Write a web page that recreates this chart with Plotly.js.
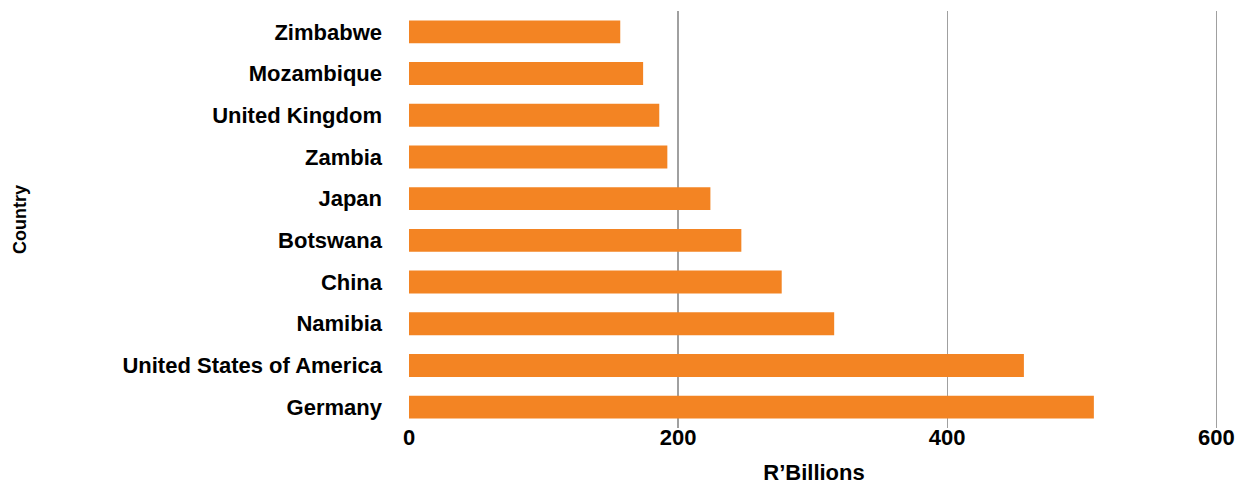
<!DOCTYPE html>
<html>
<head>
<meta charset="utf-8">
<script src="https://cdn.plot.ly/plotly-3.0.1.min.js"></script>
<style>html,body{margin:0;padding:0;background:#fff;}#chart{width:1237px;height:481px;}</style>
</head>
<body>
<div id="chart"></div>
<script>
const countries = ["Zimbabwe", "Mozambique", "United Kingdom", "Zambia", "Japan", "Botswana", "China", "Namibia", "United States of America", "Germany"];
const values = [157, 174, 186, 192, 224, 247, 277, 316, 457, 509];
const xTickVals = [0, 200, 400, 600];
const xTitle = "R\u2019Billions";
const yTitle = "Country";

const fontFamily = "Liberation Sans, Arial, sans-serif";

const trace = {
  type: "bar",
  orientation: "h",
  y: countries,
  x: values,
  marker: {color: "#F38423"},
  hoverinfo: "x+y"
};

const layout = {
  width: 1237,
  height: 481,
  margin: {l: 409, r: 18, t: 11, b: 53},
  paper_bgcolor: "#ffffff",
  plot_bgcolor: "#ffffff",
  bargap: 0.45,
  showlegend: false,
  font: {family: fontFamily, size: 22, color: "#000000", weight: "bold"},
  xaxis: {
    range: [0, 602],
    tickvals: xTickVals,
    showgrid: true,
    gridcolor: "#a0a0a0",
    gridwidth: 1.2,
    zeroline: false,
    showline: false,
    ticks: "",
    ticklabelstandoff: -6,
    tickfont: {family: fontFamily, size: 22, color: "#000000", weight: "bold"},
    title: {text: xTitle, font: {family: fontFamily, size: 22, color: "#000000", weight: "bold"}}
  },
  yaxis: {
    type: "category",
    autorange: "reversed",
    showgrid: false,
    zeroline: false,
    showline: false,
    ticks: "",
    ticklabelstandoff: 26,
    tickfont: {family: fontFamily, size: 22, color: "#000000", weight: "bold"},
    title: {text: yTitle, font: {family: fontFamily, size: 18, color: "#000000", weight: "bold"}, standoff: 91}
  }
};

Plotly.newPlot("chart", [trace], layout, {displayModeBar: false, staticPlot: true}).then(function(gd){
  const t = gd.querySelector('.g-xtitle text');
  if (t) { t.setAttribute('transform', 'translate(0,3.5)'); }
});
</script>
</body>
</html>
